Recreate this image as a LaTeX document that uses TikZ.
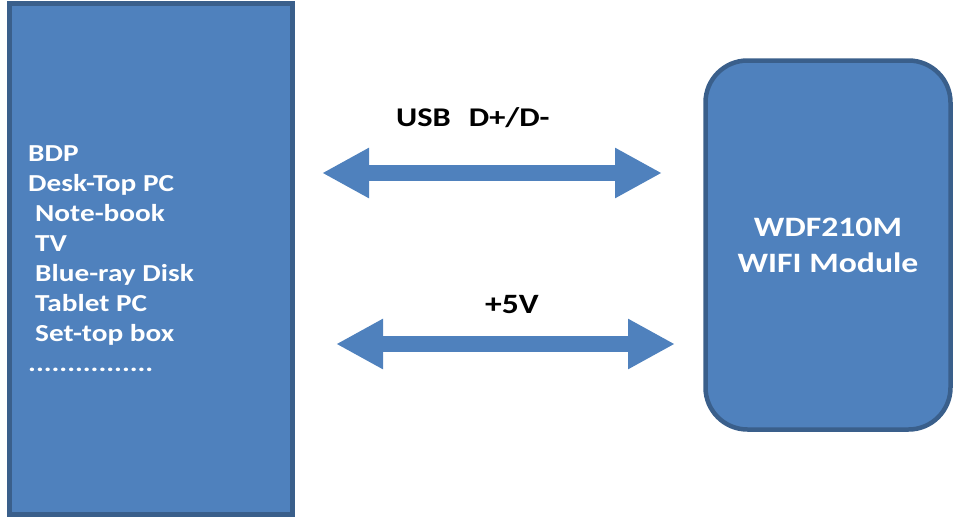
\documentclass[tikz,border=0pt]{standalone}
\usepackage{fontspec}
\setmainfont{Carlito}[FakeStretch=1.2]
\usetikzlibrary{arrows.meta}
\definecolor{boxfill}{HTML}{4F81BD}
\definecolor{boxline}{HTML}{3A5F8B}
\tikzset{
  blockbox/.style={draw=boxline, fill=boxfill, line width=4.5pt},
  itemtext/.style={anchor=base west, inner sep=0pt, text=white, font=\fontsize{24.4pt}{30pt}\selectfont\bfseries},
  sigtext/.style={anchor=base west, inner sep=0pt, text=black, font=\bfseries},
  bigarrow/.style={draw=boxfill, line width=16.5pt, {Triangle[length=47pt,width=47pt]}-{Triangle[length=47pt,width=47pt]}}
}
\begin{document}
\begin{tikzpicture}[x=1pt,y=-1pt]
\useasboundingbox (0,0) rectangle (955,517);
% host box
\draw[blockbox] (9.5,3.5) rectangle (292.5,514.5);
\node[itemtext] (l1) at (28,161) {BDP};
\node[itemtext] (l2) at (28,191) {Desk-Top PC};
\node[itemtext] (l3) at (35,221) {Note-book};
\node[itemtext] (l4) at (35,251) {TV};
\node[itemtext] (l5) at (35,281) {Blue-ray Disk};
\node[itemtext] (l6) at (35,311) {Tablet PC};
\node[itemtext] (l7) at (35,341) {Set-top box};
\node[itemtext] (l8) at (28,371) {................};
% module box
\node[blockbox, rounded corners=42pt, minimum width=245pt, minimum height=369pt, inner sep=0pt,
      text=white, align=center, font=\fontsize{28.1pt}{36pt}\selectfont\bfseries]
  (wifi) at (828,245) {WDF210M\\WIFI Module};
% arrows
\coordinate (u1) at (322,173);
\coordinate (u2) at (662,173);
\draw[bigarrow] (u1) -- (u2);
\coordinate (p1) at (336,344);
\coordinate (p2) at (675,344);
\draw[bigarrow] (p1) -- (p2);
% labels
\node[sigtext, font=\fontsize{27pt}{30pt}\selectfont\bfseries] (usb) at (396,126) {USB\hspace{18pt}D+/D-};
\node[sigtext, font=\fontsize{28pt}{30pt}\selectfont\bfseries] (v5) at (485,313) {+5V};
\end{tikzpicture}
\end{document}
